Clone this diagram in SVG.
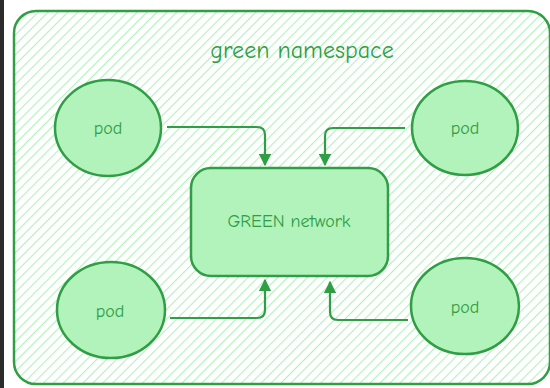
<svg xmlns="http://www.w3.org/2000/svg" width="550" height="388" viewBox="0 0 550 388">
<defs>
<pattern id="hatch" patternUnits="userSpaceOnUse" width="7" height="7" patternTransform="rotate(45)">
<rect width="7" height="7" fill="#ffffff"/>
<line x1="0" y1="0" x2="0" y2="7" stroke="#b2f2bb" stroke-width="2.2"/>
</pattern>
<marker id="ah" viewBox="0 0 10 10" refX="9" refY="5" markerWidth="5.5" markerHeight="5.5" orient="auto" markerUnits="strokeWidth">
<path d="M0,0 L10,5 L0,10 z" fill="#2f9e44"/>
</marker>
<style>
.shape{fill:#b2f2bb;stroke:#2f9e44;stroke-width:2.5}
.lbl{font-family:"Comic Neue","Liberation Sans",sans-serif;fill:#2f9e44;text-anchor:middle;dominant-baseline:central}
.conn{fill:none;stroke:#2f9e44;stroke-width:2.2;marker-end:url(#ah)}
</style>
</defs>
<rect width="550" height="388" fill="#ffffff"/>
<rect x="0" y="0" width="4" height="388" fill="#2b2b2b"/>
<g id="namespace">
<rect x="14" y="11" width="536" height="373" rx="22" fill="url(#hatch)" stroke="#2f9e44" stroke-width="2.5"/>
<text class="lbl" x="302" y="50" font-size="24">green namespace</text>
</g>
<g id="network">
<rect class="shape" x="191" y="168" width="197" height="108" rx="20"/>
<text class="lbl" x="289" y="221" font-size="18">GREEN network</text>
</g>
<g id="pod-tl">
<ellipse class="shape" cx="108" cy="128" rx="53" ry="48"/>
<text class="lbl" x="108" y="128" font-size="18">pod</text>
</g>
<g id="pod-tr">
<ellipse class="shape" cx="465" cy="128" rx="53" ry="47"/>
<text class="lbl" x="465" y="128" font-size="18">pod</text>
</g>
<g id="pod-bl">
<ellipse class="shape" cx="111" cy="310" rx="54" ry="48"/>
<text class="lbl" x="110" y="311" font-size="18">pod</text>
</g>
<g id="pod-br">
<ellipse class="shape" cx="465" cy="306" rx="54" ry="48"/>
<text class="lbl" x="465" y="307" font-size="18">pod</text>
</g>
<g id="connectors">
<path class="conn" d="M167,127 L257,127 Q265,127 265,135 L265,165"/>
<path class="conn" d="M405,128 L333,128 Q325,128 325,136 L325,165"/>
<path class="conn" d="M170,318 L257,318 Q265,318 265,310 L265,280"/>
<path class="conn" d="M408,320 L338,320 Q330,320 330,312 L330,282"/>
</g>
</svg>
